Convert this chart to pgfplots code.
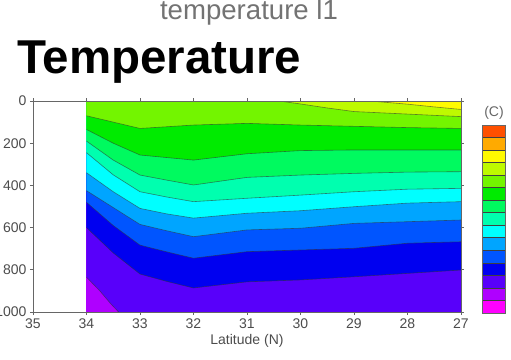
\documentclass[border=0pt]{standalone}
\usepackage{pgfplots}
\pgfplotsset{compat=1.18}
\usepackage{pgfplotstable}
\usepackage{fontspec}
\setmainfont{Liberation Sans}

\definecolor{c1}{RGB}{255,0,255}
\definecolor{c2}{RGB}{175,0,255}
\definecolor{c3}{RGB}{88,0,250}
\definecolor{c4}{RGB}{0,0,240}
\definecolor{c5}{RGB}{0,85,255}
\definecolor{c6}{RGB}{0,165,255}
\definecolor{c7}{RGB}{0,255,255}
\definecolor{c8}{RGB}{0,255,175}
\definecolor{c9}{RGB}{0,250,95}
\definecolor{c10}{RGB}{0,235,0}
\definecolor{c11}{RGB}{115,245,0}
\definecolor{c12}{RGB}{190,250,0}
\definecolor{c13}{RGB}{255,250,0}
\definecolor{c14}{RGB}{255,170,0}
\definecolor{c15}{RGB}{255,80,0}

% isotherm depths (m) by latitude
\pgfplotstableread{
lat  b4  b5  b6  b7  b8  b9  b10 b11
34   600 480 425 340 245 190 135 70
33.5 720 590 505 430 350 280 200 100
33   820 683 585 509 430 351 256 130
32.5 855 715 615 535 455 375 268 122
32   886 745 643 555 477 398 280 114
31   857 714 611 532 461 362 250 106
30   848 706 603 520 446 351 235 114
29   833 698 580 501 430 343 232 120
28   817 674 572 484 418 337 232 126
27   801 667 564 477 414 335 232 130
}\iso

\pgfplotstableread{
lat d
34 835
33.75 900
33.55 960
33.4 1000
27 1000
}\isoA

\pgfplotstableread{
lat d
34 835
33.75 900
33.55 960
33.4 1000
}\isoAline

\pgfplotstableread{
lat d
30.4 0
30 14
29.5 33
29 50
28 62
27 74
}\isoB

\pgfplotstableread{
lat d
28.7 0
28 15
27.5 28
27 40
}\isoC

\begin{document}
\begin{tikzpicture}
\useasboundingbox (0bp,0bp) rectangle (511bp,360bp);
\node[anchor=base, inner sep=0, text=black!55, font=\fontsize{27.6bp}{30bp}\selectfont] at (249bp,340bp) {temperature l1};
\node[anchor=base west, inner sep=0, font=\bfseries\fontsize{47.5bp}{50bp}\selectfont] at (17bp,286bp) {Temperature};

\begin{axis}[
  at={(33bp,48bp)}, anchor=south west, scale only axis,
  width=428bp, height=211bp,
  xmin=27, xmax=35, x dir=reverse,
  ymin=0, ymax=1000, y dir=reverse,
  xtick={27,28,...,35}, ytick={0,200,...,1000},
  tick align=outside, major tick length=3bp,
  axis line style={black!60, line width=0.9bp},
  every tick/.style={black!60, line width=0.8bp},
  tick label style={font=\fontsize{14bp}{16bp}\selectfont, text=black!70},
  /pgf/number format/assume math mode=true,
  /pgf/number format/1000 sep={},
  xlabel={Latitude (N)},
  xlabel style={font=\fontsize{14bp}{16bp}\selectfont, text=black!70, yshift=1bp},
  axis on top,
  contour/.style={draw=black!80, draw opacity=0.6, line width=0.6bp},
]
\addplot[fill=c2, draw=none] coordinates {(34,1000) (27,1000)} \closedcycle;
\addplot[fill=c3, draw=none] table[x=lat,y=d] {\isoA} \closedcycle;
\addplot[fill=c4, draw=none] table[x=lat,y=b4] {\iso} \closedcycle;
\addplot[fill=c5, draw=none] table[x=lat,y=b5] {\iso} \closedcycle;
\addplot[fill=c6, draw=none] table[x=lat,y=b6] {\iso} \closedcycle;
\addplot[fill=c7, draw=none] table[x=lat,y=b7] {\iso} \closedcycle;
\addplot[fill=c8, draw=none] table[x=lat,y=b8] {\iso} \closedcycle;
\addplot[fill=c9, draw=none] table[x=lat,y=b9] {\iso} \closedcycle;
\addplot[fill=c10, draw=none] table[x=lat,y=b10] {\iso} \closedcycle;
\addplot[fill=c11, draw=none] table[x=lat,y=b11] {\iso} \closedcycle;
\addplot[fill=c12, draw=none] table[x=lat,y=d] {\isoB} \closedcycle;
\addplot[fill=c13, draw=none] table[x=lat,y=d] {\isoC} \closedcycle;

\addplot[contour] table[x=lat,y=d] {\isoAline};
\addplot[contour] table[x=lat,y=b4] {\iso};
\addplot[contour] table[x=lat,y=b5] {\iso};
\addplot[contour] table[x=lat,y=b6] {\iso};
\addplot[contour] table[x=lat,y=b7] {\iso};
\addplot[contour] table[x=lat,y=b8] {\iso};
\addplot[contour] table[x=lat,y=b9] {\iso};
\addplot[contour] table[x=lat,y=b10] {\iso};
\addplot[contour] table[x=lat,y=b11] {\iso};
\addplot[contour] table[x=lat,y=d] {\isoB};
\addplot[contour] table[x=lat,y=d] {\isoC};
\end{axis}

\node[text=black!60, font=\fontsize{14bp}{16bp}\selectfont] at (494bp,247bp) {(C)};

\begin{axis}[
  at={(482bp,47bp)}, anchor=south west, scale only axis,
  width=23bp, height=188bp,
  xmin=0, xmax=1, ymin=0, ymax=15,
  ticks=none, axis on top,
  axis line style={black!60, line width=0.9bp},
  band/.style={draw=black!75, line width=0.6bp},
]
\addplot[band, fill=c1] coordinates {(0,0) (1,0) (1,1) (0,1)} -- cycle;
\addplot[band, fill=c2] coordinates {(0,1) (1,1) (1,2) (0,2)} -- cycle;
\addplot[band, fill=c3] coordinates {(0,2) (1,2) (1,3) (0,3)} -- cycle;
\addplot[band, fill=c4] coordinates {(0,3) (1,3) (1,4) (0,4)} -- cycle;
\addplot[band, fill=c5] coordinates {(0,4) (1,4) (1,5) (0,5)} -- cycle;
\addplot[band, fill=c6] coordinates {(0,5) (1,5) (1,6) (0,6)} -- cycle;
\addplot[band, fill=c7] coordinates {(0,6) (1,6) (1,7) (0,7)} -- cycle;
\addplot[band, fill=c8] coordinates {(0,7) (1,7) (1,8) (0,8)} -- cycle;
\addplot[band, fill=c9] coordinates {(0,8) (1,8) (1,9) (0,9)} -- cycle;
\addplot[band, fill=c10] coordinates {(0,9) (1,9) (1,10) (0,10)} -- cycle;
\addplot[band, fill=c11] coordinates {(0,10) (1,10) (1,11) (0,11)} -- cycle;
\addplot[band, fill=c12] coordinates {(0,11) (1,11) (1,12) (0,12)} -- cycle;
\addplot[band, fill=c13] coordinates {(0,12) (1,12) (1,13) (0,13)} -- cycle;
\addplot[band, fill=c14] coordinates {(0,13) (1,13) (1,14) (0,14)} -- cycle;
\addplot[band, fill=c15] coordinates {(0,14) (1,14) (1,15) (0,15)} -- cycle;
\end{axis}
\end{tikzpicture}
\end{document}
